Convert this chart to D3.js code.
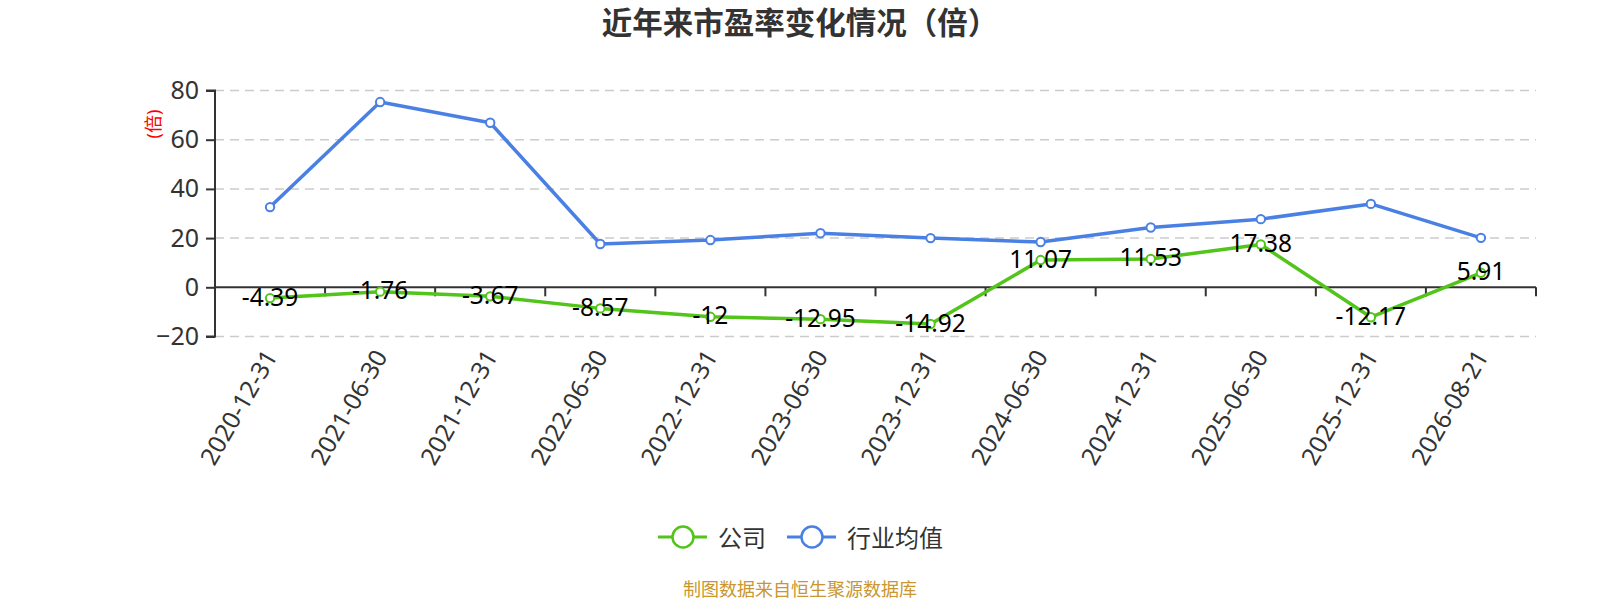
<!DOCTYPE html>
<html><head><meta charset="utf-8">
<script src="https://cdn.jsdelivr.net/npm/d3@7/dist/d3.min.js"></script>
<style>
html,body{margin:0;padding:0;background:#fff;}
svg{display:block;font-family:'Noto Sans','Noto Sans CJK SC',sans-serif;}
</style></head>
<body><svg id="c" width="1600" height="600"></svg>
<script>
const categories = ["2020-12-31","2021-06-30","2021-12-31","2022-06-30","2022-12-31","2023-06-30","2023-12-31","2024-06-30","2024-12-31","2025-06-30","2025-12-31","2026-08-21"];
const companyPE = [-4.39,-1.76,-3.67,-8.57,-12,-12.95,-14.92,11.07,11.53,17.38,-12.17,5.91];
const industryPE = [32.6,75.3,66.9,17.6,19.2,22.0,20.0,18.4,24.3,27.7,33.9,20.1];
const yTicks = [-20,0,20,40,60,80];
const seriesNames = ["公司","行业均值"];
const colors = ["#52c41a","#4a80e3"];

const svg = d3.select("#c");
const gLeft = 215, gRight = 1536, gTop = 90.5, gBottom = 336.5;
const x = d3.scaleBand().domain(categories).range([gLeft,gRight]);
const y = d3.scaleLinear().domain([-20,80]).range([gBottom,gTop]);
const cx = d => x(d) + x.bandwidth()/2;

// title
svg.append("text").attr("x",800).attr("y",22).attr("text-anchor","middle").attr("dominant-baseline","central")
  .attr("font-size",30.5).attr("font-weight","bold").attr("fill","#333").text("近年来市盈率变化情况（倍）");

// grid
svg.append("g").selectAll("line").data(yTicks.filter(v=>v!==0)).join("line")
  .attr("x1",gLeft).attr("x2",gRight).attr("y1",d=>y(d)).attr("y2",d=>y(d))
  .attr("stroke","#ccc").attr("stroke-width",1.5).attr("stroke-dasharray","9,6");

// y axis
const yAxis = d3.axisLeft(y).tickValues(yTicks).tickSize(9).tickPadding(7);
const gy = svg.append("g").attr("transform",`translate(${gLeft},0)`).call(yAxis);
gy.select(".domain").attr("stroke","#333").attr("stroke-width",2).attr("d",`M-9,${y(80)}H0V${y(-20)}H-9`);
gy.selectAll(".tick line").attr("stroke","#333").attr("stroke-width",2);
gy.selectAll(".tick text").attr("font-size",25).attr("fill","#333").attr("font-family","'Noto Sans',sans-serif");

// x axis at zero
const xAxis = d3.axisBottom(x).tickSize(0).tickFormat("");
const gx = svg.append("g").attr("transform",`translate(0,${y(0)})`).call(xAxis);
gx.select(".domain").attr("stroke","#333").attr("stroke-width",2).attr("d",`M${gLeft},0H${gRight}`);
const bounds = categories.map(c=>x(c)).concat([gRight]);
svg.append("g").selectAll("line").data(bounds.slice(1)).join("line")
  .attr("x1",d=>d).attr("x2",d=>d).attr("y1",y(0)).attr("y2",y(0)+9)
  .attr("stroke","#333").attr("stroke-width",2);

// x labels
svg.append("g").selectAll("text").data(categories).join("text")
  .attr("transform",d=>`translate(${cx(d)},${gBottom+15}) rotate(-60)`)
  .attr("text-anchor","end").attr("dominant-baseline","central")
  .attr("font-size",24.5).attr("fill","#333").text(d=>d);

// y axis name
svg.append("text").attr("transform","translate(153,124) rotate(-90)")
  .attr("text-anchor","middle").attr("dominant-baseline","central")
  .attr("font-size",18).attr("fill","#ff0000").text("(倍)");

// lines
const line = d3.line().x((d,i)=>cx(categories[i])).y(d=>y(d));
[companyPE, industryPE].forEach((data,si)=>{
  svg.append("path").datum(data).attr("d",line).attr("fill","none")
    .attr("stroke",colors[si]).attr("stroke-width",3.5).attr("stroke-linejoin","round");
  svg.append("g").selectAll("circle").data(data).join("circle")
    .attr("cx",(d,i)=>cx(categories[i])).attr("cy",d=>y(d)).attr("r",4.2)
    .attr("fill","#fff").attr("stroke",colors[si]).attr("stroke-width",2);
});

// data labels for company
svg.append("g").selectAll("text").data(companyPE).join("text")
  .attr("x",(d,i)=>cx(categories[i])).attr("y",d=>y(d)-2)
  .attr("text-anchor","middle").attr("dominant-baseline","central")
  .attr("font-size",24.5).attr("fill","#000").text(d=>d);

// legend
const legendItems = [{name:seriesNames[0],color:colors[0],x0:658,tx:718},{name:seriesNames[1],color:colors[1],x0:787,tx:847}];
const lg = svg.append("g");
legendItems.forEach(it=>{
  lg.append("line").attr("x1",it.x0).attr("x2",it.x0+49).attr("y1",537).attr("y2",537)
    .attr("stroke",it.color).attr("stroke-width",3);
  lg.append("circle").attr("cx",it.x0+25).attr("cy",537).attr("r",10.5)
    .attr("fill","#fff").attr("stroke",it.color).attr("stroke-width",2.5);
  lg.append("text").attr("x",it.tx).attr("y",537).attr("dominant-baseline","central")
    .attr("font-size",24).attr("fill","#333").text(it.name);
});

// footer
svg.append("text").attr("x",800).attr("y",589).attr("text-anchor","middle").attr("dominant-baseline","central")
  .attr("font-size",18).attr("fill","#c9962f").text("制图数据来自恒生聚源数据库");
</script></body></html>
